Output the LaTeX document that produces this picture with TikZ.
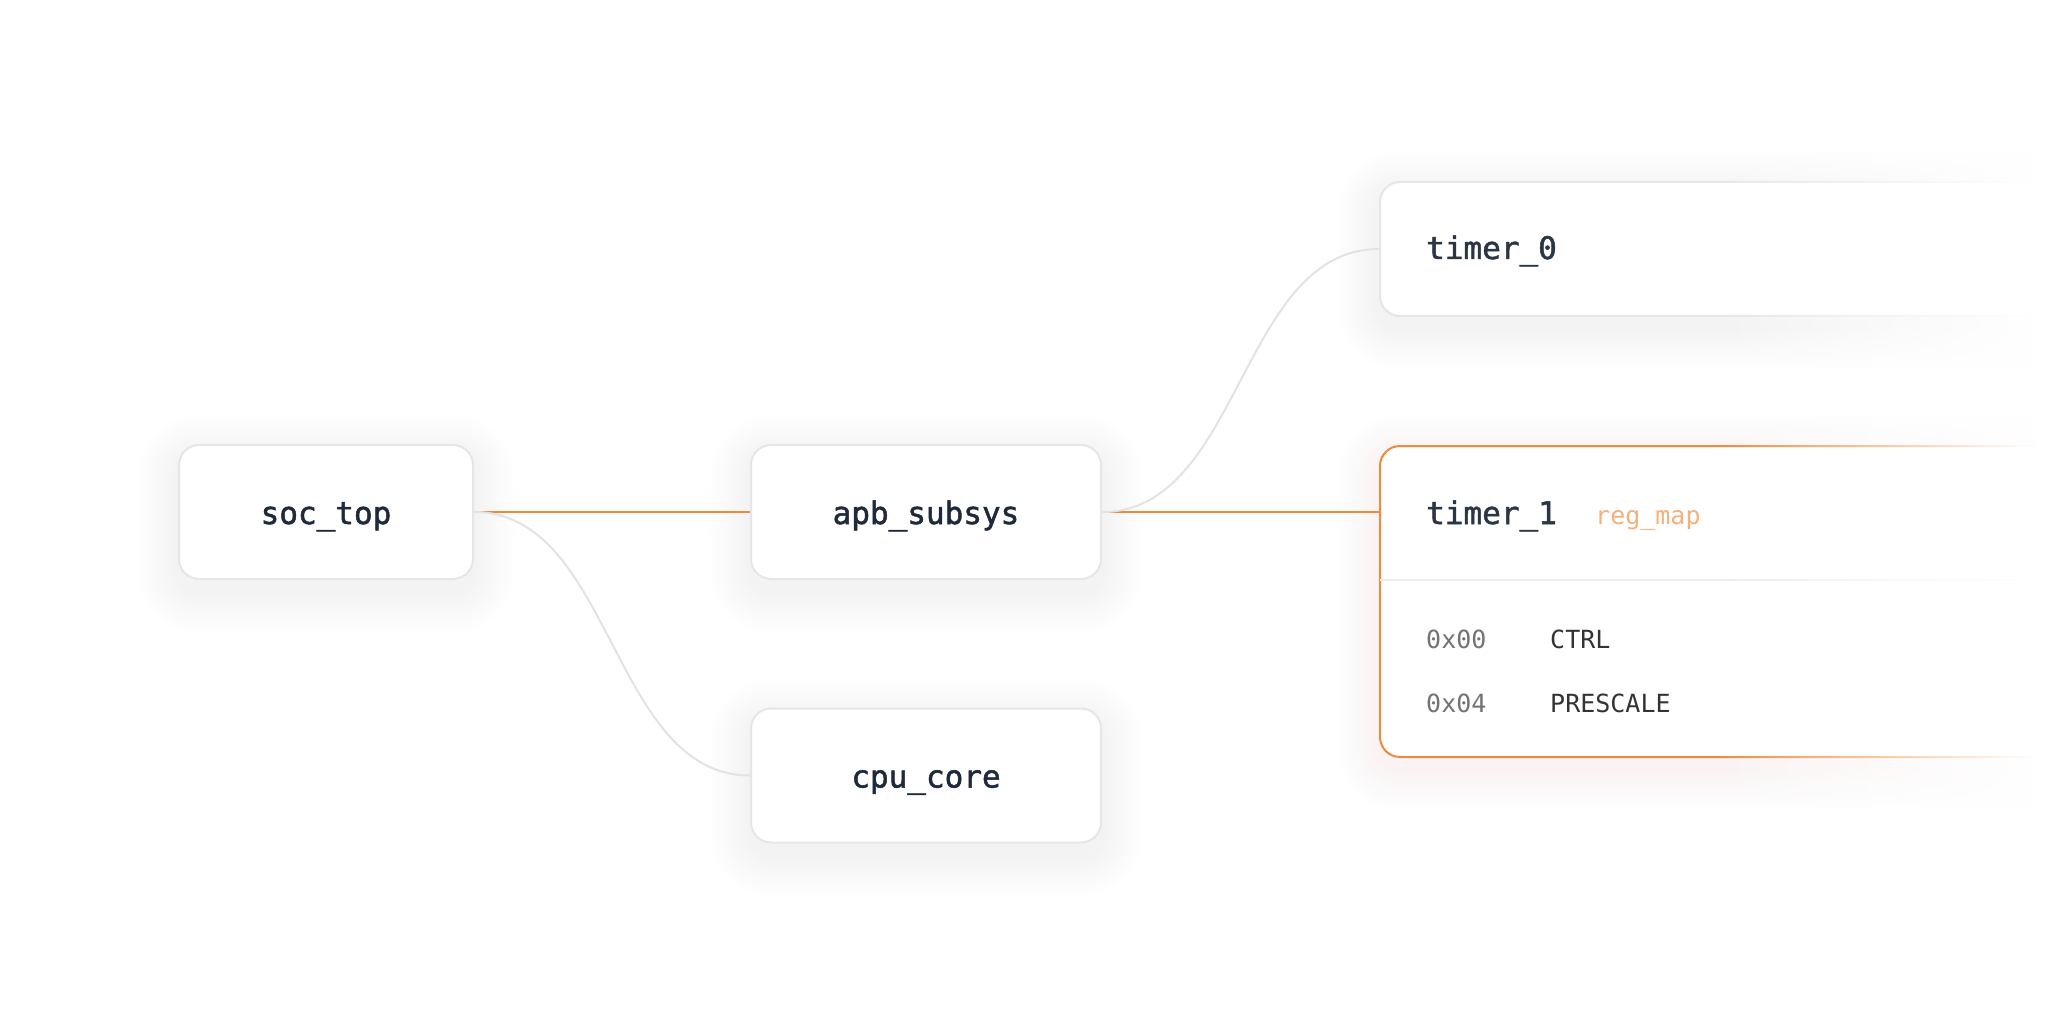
\documentclass[tikz,border=0pt]{standalone}
\usepackage{fontspec}
\newfontfamily\monof{DejaVu Sans Mono}
\newfontfamily\monob{DejaVu Sans Mono}[FakeBold=1.6]
\definecolor{cBorder}{HTML}{E6E6E6}
\definecolor{cOrange}{HTML}{EF8A3A}
\definecolor{cGlow}{HTML}{FBD3B0}
\definecolor{cShadow}{HTML}{D8D8D8}
\definecolor{cTitle}{HTML}{1E293B}
\definecolor{cTitleB}{HTML}{2B3544}
\definecolor{cAddr}{HTML}{737373}
\definecolor{cReg}{HTML}{333333}
\definecolor{cTag}{HTML}{F6B07C}
\definecolor{cCurve}{HTML}{E3E3E3}
\definecolor{cDiv}{HTML}{EDEDED}
\newcommand{\boxglow}[6]{%
  \foreach \k in {1,...,12}{%
    \pgfmathsetmacro{\gr}{20+3.5*\k}%
    \fill[#5, opacity=#6, rounded corners=\gr pt] ({#1-3.5*\k},{#2-3.5*\k+12}) rectangle ({#3+3.5*\k},{#4+3.5*\k+12});
  }}
\tikzset{
  box/.style={draw=cBorder, line width=2pt, fill=white, rounded corners=20pt, inner sep=0pt},
  title/.style={font=\monob\fontsize{31}{31}\selectfont, text=cTitle, text height=30pt, text depth=6pt},
  ttitle/.style={font=\monob\fontsize{31}{31}\selectfont, text=cTitleB, anchor=base west, inner sep=0pt},
  regtxt/.style={font=\monof\fontsize{25}{25}\selectfont, anchor=base west, inner sep=0pt},
  link/.style={cOrange, line width=2pt},
  curve/.style={cCurve, line width=2pt},
}
\begin{document}
\begin{tikzpicture}[x=1pt,y=-1pt]
\fill[white] (0,0) rectangle (2048,1024);
\useasboundingbox (0,0) rectangle (2048,1024);
% shadows
\boxglow{179}{445}{473}{579}{cShadow}{0.012}
\boxglow{751}{445}{1101}{579}{cShadow}{0.012}
\boxglow{751}{709}{1101}{842}{cShadow}{0.012}
\boxglow{1379}{181}{2160}{315}{cShadow}{0.012}
\boxglow{1379}{445}{2160}{756}{cGlow}{0.012}
% boxes
\node[box, minimum width=294pt, minimum height=134pt, title] (soc) at (326,512) {soc\_top};
\node[box, minimum width=350pt, minimum height=134pt, title] (apb) at (926,512) {apb\_subsys};
\node[box, minimum width=350pt, minimum height=134pt, title] (cpu) at (926,775.5) {cpu\_core};
\node[box, minimum width=781pt, minimum height=134pt, anchor=north west] (t0) at (1379,181) {};
\node[box, draw=cOrange, minimum width=781pt, minimum height=311pt, anchor=north west] (t1) at (1379,445) {};
\draw[cDiv, line width=2pt] (1380,580) -- (2160,580);
% connectors
\draw[link] (soc.east) -- (apb.west);
\draw[curve] (soc.east) .. controls +(139,0) and +(-139,0) .. (cpu.west);
\draw[link] (apb.east) -- (t1.west |- apb.east);
\draw[curve] (apb.east) .. controls +(139,0) and +(-139,0) .. (t0.west);
% fade of the right side
\foreach \k in {1,...,80}{%
  \pgfmathsetmacro{\op}{min(1,(\k/80)^0.9)}%
  \fill[white, opacity=\op] ({1720+4*(\k-1)},110) rectangle ({1720+4*\k},850);
}
\fill[white] (2040,110) rectangle (2170,850);
% texts
\node[ttitle] (t0txt) at (1426,259) {timer\_0};
\node[ttitle] (t1txt) at (1426,524) {timer\_1};
\node[regtxt, text=cTag] (tag) at (1595,524) {reg\_map};
\node[regtxt, text=cAddr] (a0) at (1426,648) {0x00};
\node[regtxt, text=cReg] (r0) at (1550,648) {CTRL};
\node[regtxt, text=cAddr] (a1) at (1426,712) {0x04};
\node[regtxt, text=cReg] (r1) at (1550,712) {PRESCALE};
\end{tikzpicture}
\end{document}
